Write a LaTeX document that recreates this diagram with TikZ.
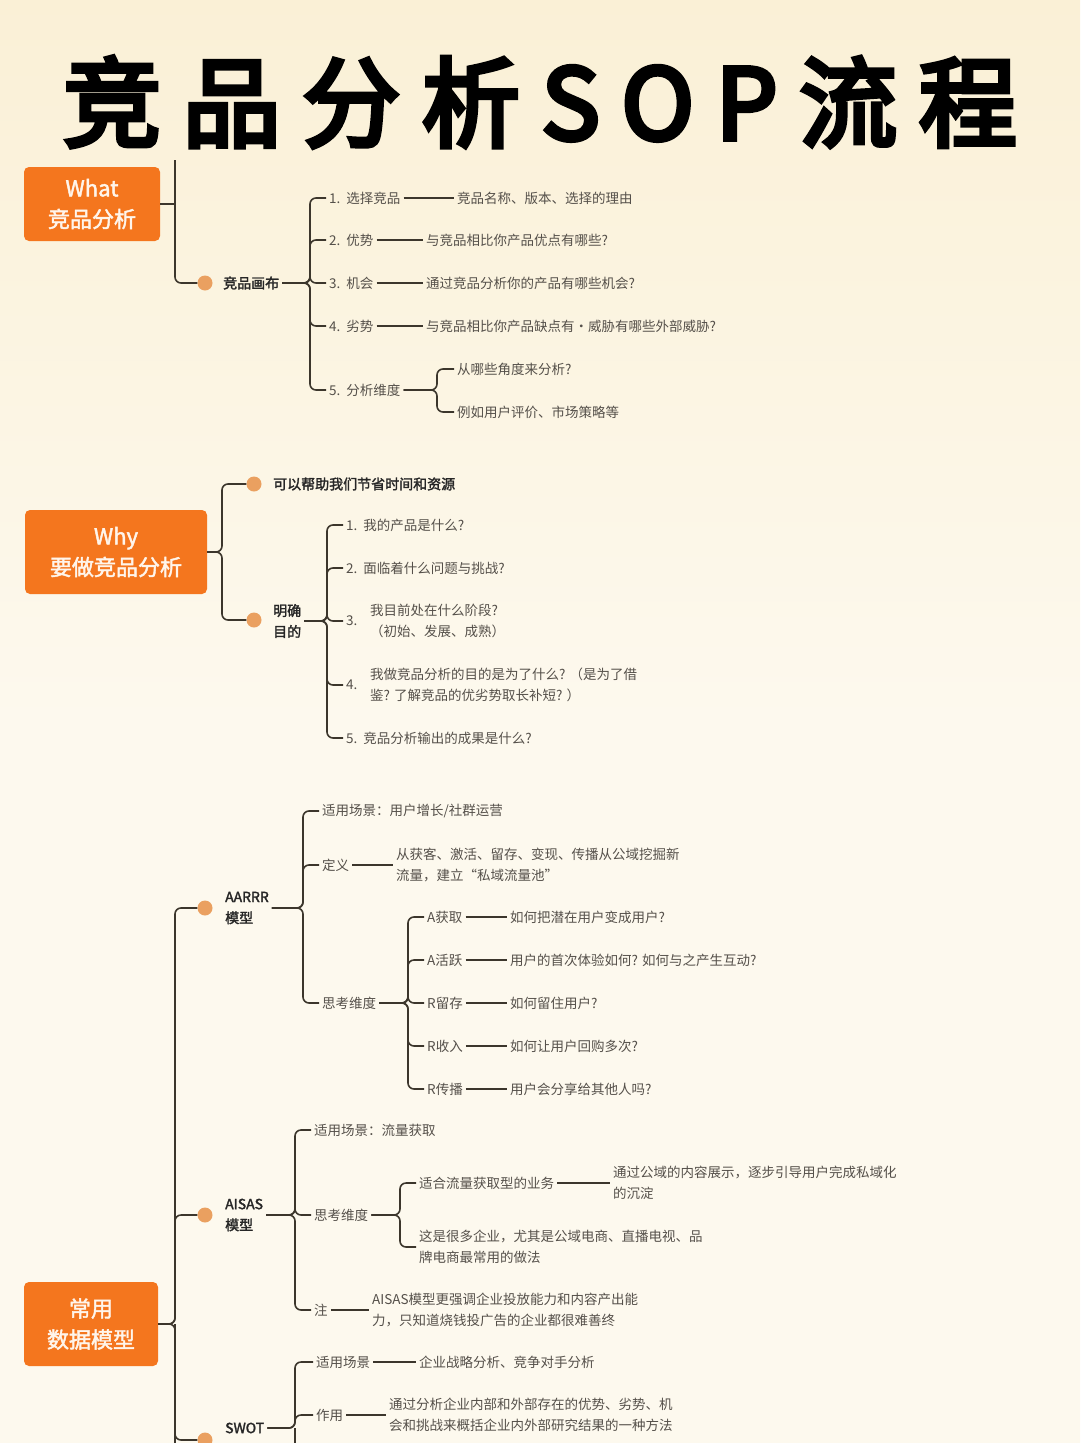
\documentclass[tikz,border=0pt]{standalone}
\usepackage{fontspec}
\setmainfont{Noto Sans CJK SC}
\newfontfamily\titlefont{Noto Sans CJK SC}[FakeBold=5,LetterSpace=22]
\newfontfamily\boldfont{Noto Sans CJK SC}[FakeBold=2]
\usetikzlibrary{positioning}
\definecolor{paper}{RGB}{253,249,238}
\definecolor{paperTop}{RGB}{250,240,214}
\definecolor{boxorange}{RGB}{244,118,30}
\definecolor{dotorange}{RGB}{234,160,96}
\definecolor{inkline}{RGB}{60,54,44}
\definecolor{inktext}{RGB}{85,80,74}
\begin{document}
\begin{tikzpicture}
  [x=1pt,y=-1pt,
   every node/.style={font=\fontsize{13.5}{21}\selectfont,text=inktext,inner sep=3pt},
   item/.style={anchor=west,align=left},
   bitem/.style={anchor=west,align=left,text=black!85,font=\fontsize{14}{21}\boldfont},
   secbox/.style={rectangle,rounded corners=5pt,fill=boxorange,text=white!92!orange,
     font=\fontsize{22}{31}\boldfont,align=center,inner sep=0pt},
   dot/.style={circle,fill=dotorange,minimum size=15pt,inner sep=0pt},
   conn/.style={draw=inkline,line width=1.6pt,rounded corners=6pt},
   tie/.style={draw=inkline,line width=1.3pt}]
  \shade[top color=paperTop,bottom color=paper,middle color=paper] (0,0) rectangle (1080,1443);
  \useasboundingbox (0,0) rectangle (1080,1443);
  \node[font=\fontsize{98}{100}\titlefont,text=black] (title) at (540,102) {竞品分析SOP流程};

  % what
  \node[secbox,minimum width=136pt,minimum height=74pt] (what) at (92,204) {What\\竞品分析};
  \coordinate (wtop) at (175,160);
  \node[dot] (d1) at (205,283) {};
  \node[bitem] (canvas) at (220,283) {竞品画布};
  \coordinate (bw) at (310,0);
  \node[item] (w1) at (326,198) {1.\ \ 选择竞品};
  \node[item] (w2) at (326,240) {2.\ \ 优势};
  \node[item] (w3) at (326,283) {3.\ \ 机会};
  \node[item] (w4) at (326,326) {4.\ \ 劣势};
  \node[item] (w5) at (326,390) {5.\ \ 分析维度};
  \node[item] (w1a) at (454,198) {竞品名称、版本、选择的理由};
  \node[item] (w2a) at (423,240) {与竞品相比你产品优点有哪些?};
  \node[item] (w3a) at (423,283) {通过竞品分析你的产品有哪些机会?};
  \node[item] (w4a) at (423,326) {与竞品相比你产品缺点有·威胁有哪些外部威胁?};
  \coordinate (bw5) at (437,0);
  \node[item] (w5a) at (454,369) {从哪些角度来分析?};
  \node[item] (w5b) at (454,412) {例如用户评价、市场策略等};
  \draw[conn] (what.east) -- (what.east -| wtop);
  \draw[conn] (wtop) |- (d1.west);
  \foreach \c in {w1,w2,w3,w4,w5}
    \draw[conn] (canvas.east) -- (canvas.east -| bw) |- (\c.west);
  \foreach \a/\b in {w1/w1a,w2/w2a,w3/w3a,w4/w4a}
    \draw[tie] (\a) -- (\b);
  \foreach \c in {w5a,w5b}
    \draw[conn] (w5.east) -- (w5.east -| bw5) |- (\c.west);

  % why
  \node[secbox,minimum width=182pt,minimum height=84pt] (why) at (116,552) {Why\\要做竞品分析};
  \coordinate (by) at (222,0);
  \node[dot] (d2) at (254,484) {};
  \node[dot] (d3) at (254,620) {};
  \node[bitem] (save) at (270,484) {可以帮助我们节省时间和资源};
  \node[bitem] (goal) at (270,621) {明确\\目的};
  \coordinate (bg) at (327,0);
  \node[item] (g1) at (343,525) {1.\ \ 我的产品是什么?};
  \node[item] (g2) at (343,568) {2.\ \ 面临着什么问题与挑战?};
  \node[item] (g3) at (343,621) {3.};
  \node[item] (g4) at (343,685) {4.};
  \node[item] (g5) at (343,738) {5.\ \ 竞品分析输出的成果是什么?};
  \node[item] (g3a) at (367,621) {我目前处在什么阶段?\\（初始、发展、成熟）};
  \node[item] (g4a) at (367,685) {我做竞品分析的目的是为了什么? （是为了借\\鉴? 了解竞品的优劣势取长补短? ）};
  \foreach \c in {d2,d3}
    \draw[conn] (why.east) -- (why.east -| by) |- (\c.west);
  \foreach \c in {g1,g2,g3,g4,g5}
    \draw[conn] (goal.east) -- (goal.east -| bg) |- (\c.west);

  % models
  \node[secbox,minimum width=134pt,minimum height=84pt] (model) at (91,1324) {常用\\数据模型};
  \coordinate (bm) at (175,0);
  \coordinate (mbot) at (175,1460);
  \node[dot] (d4) at (205,908) {};
  \node[dot] (d5) at (205,1215) {};
  \node[dot] (d6) at (205,1440) {};
  \node[bitem] (aarrr) at (222,908) {AARRR\\模型};
  \node[bitem] (aisas) at (222,1215) {AISAS\\模型};
  \node[bitem] (swot) at (222,1428) {SWOT};
  \foreach \c in {d4,d5,d6}
    \draw[conn] (model.east) -- (model.east -| bm) |- (\c.west);
  \draw[conn] (model.east -| bm) -- (mbot);

  % aarrr
  \coordinate (ba) at (303,0);
  \node[item] (a1) at (319,811) {适用场景：用户增长/社群运营};
  \node[item] (a2) at (319,865) {定义};
  \node[item] (a3) at (319,1003) {思考维度};
  \node[item] (a2a) at (393,865) {从获客、激活、留存、变现、传播从公域挖掘新\\流量，建立“私域流量池”};
  \foreach \c in {a1,a2,a3}
    \draw[conn] (aarrr.east) -- (aarrr.east -| ba) |- (\c.west);
  \draw[tie] (a2) -- (a2a);
  \coordinate (bt) at (408,0);
  \foreach \n/\y/\k/\v in {t1/917/A获取/如何把潜在用户变成用户?,
      t2/960/A活跃/用户的首次体验如何? 如何与之产生互动?,
      t3/1003/R留存/如何留住用户?,
      t4/1046/R收入/如何让用户回购多次?,
      t5/1089/R传播/用户会分享给其他人吗?}{
    \node[item] (\n) at (424,\y) {\k};
    \node[item] (\n a) at (507,\y) {\v};
    \draw[conn] (a3.east) -- (a3.east -| bt) |- (\n.west);
    \draw[tie] (\n) -- (\n a);
  }

  % aisas
  \coordinate (bs) at (295,0);
  \node[item] (s1) at (311,1130) {适用场景：流量获取};
  \node[item] (s2) at (311,1215) {思考维度};
  \node[item] (s3) at (311,1310) {注};
  \node[item] (s3a) at (369,1310) {AISAS模型更强调企业投放能力和内容产出能\\力，只知道烧钱投广告的企业都很难善终};
  \foreach \c in {s1,s2,s3}
    \draw[conn] (aisas.east) -- (aisas.east -| bs) |- (\c.west);
  \draw[tie] (s3) -- (s3a);
  \coordinate (bs2) at (400,0);
  \node[item] (s21) at (416,1183) {适合流量获取型的业务};
  \node[item] (s22) at (416,1247) {这是很多企业，尤其是公域电商、直播电视、品\\牌电商最常用的做法};
  \node[item] (s21a) at (610,1183) {通过公域的内容展示，逐步引导用户完成私域化\\的沉淀};
  \foreach \c in {s21,s22}
    \draw[conn] (s2.east) -- (s2.east -| bs2) |- (\c.west);
  \draw[tie] (s21) -- (s21a);

  % swot
  \coordinate (bo) at (295,0);
  \coordinate (obot) at (295,1460);
  \node[item] (o1) at (313,1362) {适用场景};
  \node[item] (o2) at (313,1415) {作用};
  \node[item] (o1a) at (416,1362) {企业战略分析、竞争对手分析};
  \node[item] (o2a) at (386,1415) {通过分析企业内部和外部存在的优势、劣势、机\\会和挑战来概括企业内外部研究结果的一种方法};
  \foreach \c in {o1,o2}
    \draw[conn] (swot.east) -- (swot.east -| bo) |- (\c.west);
  \draw[conn] (swot.east -| bo) -- (obot);
  \draw[tie] (o1) -- (o1a);
  \draw[tie] (o2) -- (o2a);
\end{tikzpicture}
\end{document}
